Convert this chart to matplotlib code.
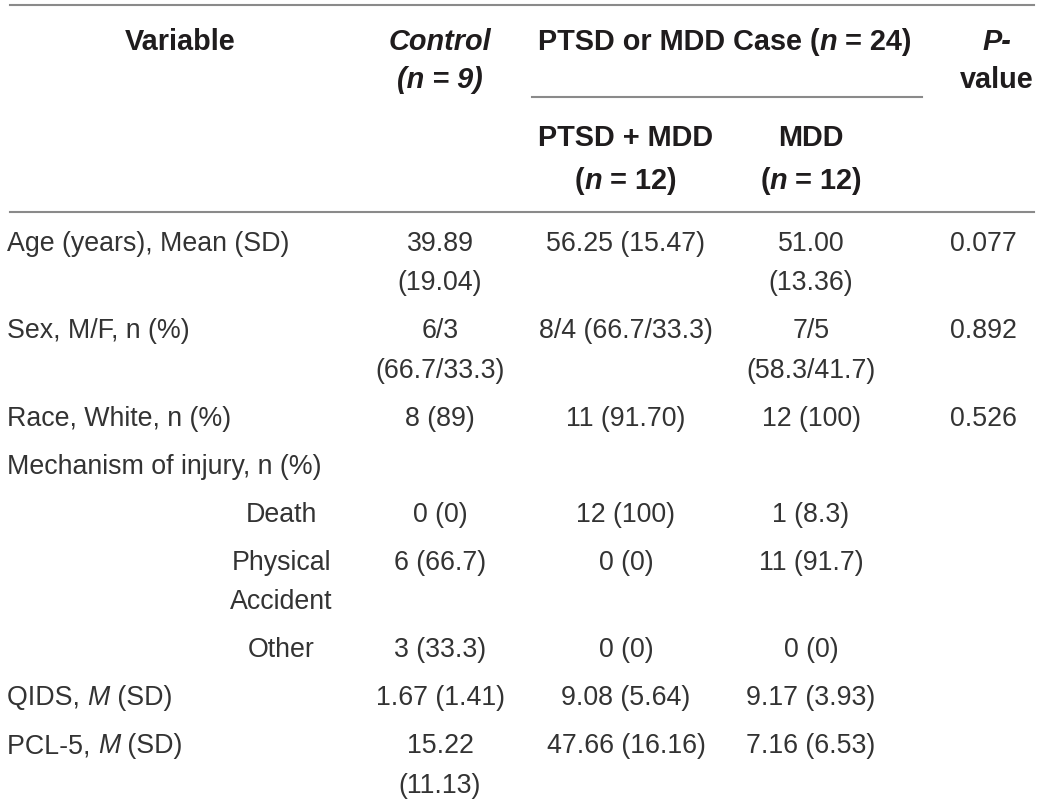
import matplotlib
matplotlib.use("Agg")
import matplotlib.pyplot as plt

# ---------- dados da tabela ----------
variables = ["Age (years), Mean (SD)", "Sex, M/F, n (%)", "Race, White, n (%)",
             "Mechanism of injury, n (%)", "Death", "Physical\nAccident", "Other",
             "QIDS, *M* (SD)", "PCL-5, *M* (SD)"]
is_sub = [False, False, False, False, True, True, True, False, False]
control = ["39.89\n(19.04)", "6/3\n(66.7/33.3)", "8 (89)", "", "0 (0)",
           "6 (66.7)", "3 (33.3)", "1.67 (1.41)", "15.22\n(11.13)"]
ptsd_mdd = ["56.25 (15.47)", "8/4 (66.7/33.3)", "11 (91.70)", "", "12 (100)",
            "0 (0)", "0 (0)", "9.08 (5.64)", "47.66 (16.16)"]
mdd = ["51.00\n(13.36)", "7/5\n(58.3/41.7)", "12 (100)", "", "1 (8.3)",
       "11 (91.7)", "0 (0)", "9.17 (3.93)", "7.16 (6.53)"]
p_values = ["0.077", "0.892", "0.526", "", "", "", "", "", ""]

FONT = "Liberation Sans"
SIZE = 19.3       # corpo
HSIZE = 20.8      # cabeçalho
INK = "#1f1c1d"
BODY_INK = "#333333"
RULE = "#8a8a8a"

W, H = 1044, 805
fig = plt.figure(figsize=(W / 100, H / 100), dpi=100)
ax = fig.add_axes([0, 0, 1, 1])
ax.set_xlim(0, W)
ax.set_ylim(H, 0)
ax.axis("off")
renderer = fig.canvas.get_renderer()


def text_width(s, weight, style, size):
    # mede com barras nas pontas para não perder espaços
    kw = dict(fontsize=size, family=FONT, weight=weight, style=style)
    t1 = ax.text(0, 0, "|" + s + "|", **kw)
    t2 = ax.text(0, 0, "||", **kw)
    w = t1.get_window_extent(renderer).width - t2.get_window_extent(renderer).width
    t1.remove(); t2.remove()
    return w


def draw(x, y, markup, ha="center", weight="normal", italic=False):
    # *texto* alterna o itálico
    size = HSIZE if weight == "bold" else SIZE
    color = INK if weight == "bold" else BODY_INK
    parts = markup.split("*")
    runs = []
    for i, p in enumerate(parts):
        if p:
            it = italic != (i % 2 == 1)
            runs.append((p, "italic" if it else "normal"))
    widths = [text_width(p, weight, st, size) for p, st in runs]
    total = sum(widths)
    x0 = x - total / 2 if ha == "center" else x
    for (p, st), w in zip(runs, widths):
        ax.text(x0, y, p, fontsize=size, family=FONT, weight=weight, style=st,
                color=color, ha="left", va="center")
        x0 += w


# colunas
X_VAR, X_SUB, X_CTRL, X_PM, X_MDD, X_P, X_PH = 7, 281, 440, 626, 811, 983, 997
LINE_H, ROW_PAD = 39.5, 8.5

# ---------- linhas horizontais ----------
ax.plot([10, W - 10], [5, 5], color=RULE, lw=1.5)
ax.plot([532, 922], [97, 97], color=RULE, lw=1.5)
ax.plot([10, W - 10], [212, 212], color=RULE, lw=1.5)

# ---------- cabeçalho ----------
draw(180, 42, "Variable", weight="bold")
draw(X_CTRL, 42, "Control", weight="bold", italic=True)
draw(X_CTRL, 80, "(n = 9)", weight="bold", italic=True)
draw(725, 42, "PTSD or MDD Case (*n* = 24)", weight="bold")
draw(X_PH, 42, "P-", weight="bold", italic=True)
draw(X_PH, 80, "value", weight="bold")
draw(X_PM, 138, "PTSD + MDD", weight="bold")
draw(X_PM, 181, "(*n* = 12)", weight="bold")
draw(X_MDD, 138, "MDD", weight="bold")
draw(X_MDD, 181, "(*n* = 12)", weight="bold")

# ---------- corpo ----------
y = 243.5
for i, var in enumerate(variables):
    cells = [(X_CTRL, control[i]), (X_PM, ptsd_mdd[i]), (X_MDD, mdd[i]), (X_P, p_values[i])]
    nlines = max(c.count("\n") + 1 for c in [var] + [c for _, c in cells])
    for k, line in enumerate(var.split("\n")):
        if is_sub[i]:
            draw(X_SUB, y + k * LINE_H, line)
        else:
            draw(X_VAR, y + k * LINE_H, line, ha="left")
    for x, cell in cells:
        for k, line in enumerate(cell.split("\n")):
            if line:
                draw(x, y + k * LINE_H, line)
    y += nlines * LINE_H + ROW_PAD

fig.savefig("out.png", dpi=100, facecolor="white")
